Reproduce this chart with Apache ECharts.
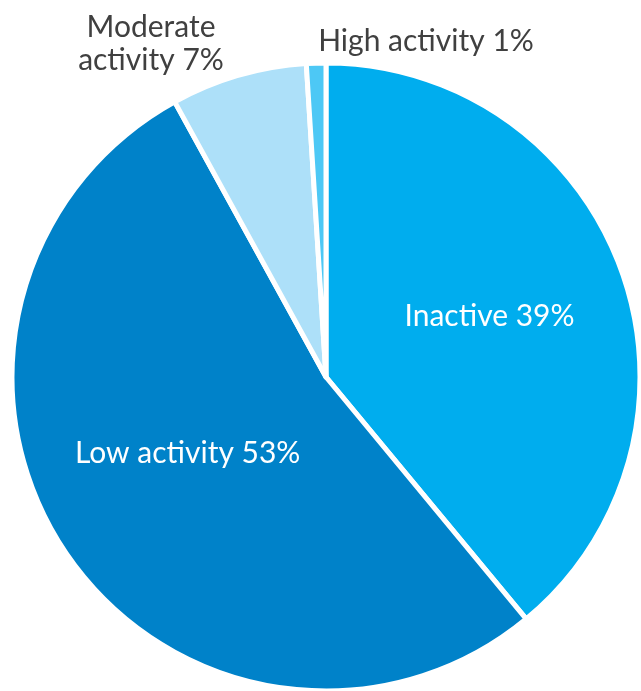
<!DOCTYPE html>
<html><head><meta charset="utf-8">
<script src="https://cdn.jsdelivr.net/npm/echarts@6/dist/echarts.min.js"></script>
<style>html,body{margin:0;padding:0;background:#fff}#c{width:641px;height:691px}</style>
</head><body><div id="c"></div>
<script>
const categories = ['Inactive', 'Low activity', 'Moderate activity', 'High activity'];
const values = [39, 53, 7, 1];
const colors = ['#00ADEE', '#0082C9', '#ADE0F9', '#4DC8F5'];
const labelTexts = ['Inactive 39%', 'Low activity 53%', 'Moderate\nactivity 7%', 'High activity 1%'];

const chart = echarts.init(document.getElementById('c'));
const font = 'Lato';
const data = categories.map((c, i) => {
  const d = { name: c, value: values[i], itemStyle: { color: colors[i] } };
  if (i === 0) d.label = { position: 'inside', color: '#fff', offset: [13, -6] };
  if (i === 1) d.label = { position: 'inside', color: '#fff', offset: [-6, -14] };
  if (i >= 2) d.label = { position: 'outside', color: '#404040' };
  return d;
});
chart.setOption({
  animation: false,
  series: [{
    type: 'pie',
    center: [326, 377],
    radius: [0, 314],
    startAngle: 90,
    clockwise: true,
    data: data,
    avoidLabelOverlap: false,
    itemStyle: { borderColor: '#fff', borderWidth: 5 },
    labelLine: { show: false },
    label: {
      fontFamily: font,
      fontSize: 30,
      lineHeight: 33,
      align: 'center',
      overflow: 'none',
      formatter: p => labelTexts[p.dataIndex]
    },
    labelLayout: function (p) {
      if (p.dataIndex === 2) return { x: 151, y: 44, align: 'center', verticalAlign: 'middle' };
      if (p.dataIndex === 3) return { x: 426, y: 41, align: 'center', verticalAlign: 'middle' };
      return {};
    }
  }]
});
</script></body></html>
